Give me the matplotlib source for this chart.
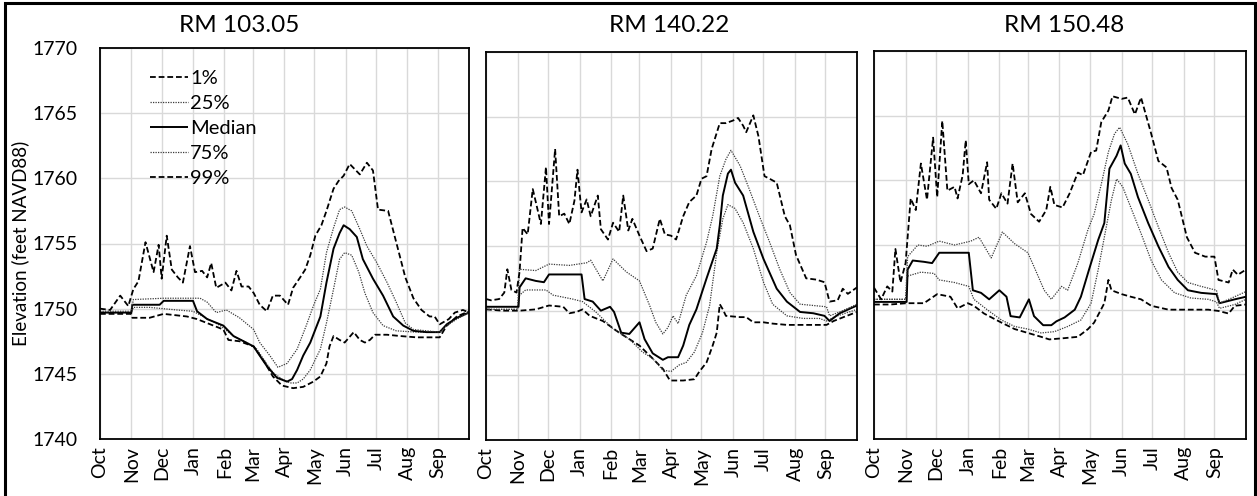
import matplotlib
matplotlib.use("Agg")
import matplotlib.pyplot as plt
from matplotlib.patches import Rectangle

plt.rcParams['font.family'] = ['Lato', 'DejaVu Sans']

# ---------------- data (day of water year, elevation ft NAVD88) ----------------
MONTH_LABELS = ['Oct', 'Nov', 'Dec', 'Jan', 'Feb', 'Mar', 'Apr', 'May', 'Jun', 'Jul', 'Aug', 'Sep']
MONTH_START = [0, 31, 61, 92, 123, 151, 182, 212, 243, 273, 304, 334]
TITLES = ['RM 103.05', 'RM 140.22', 'RM 150.48']
SERIES_NAMES = ['1%', '25%', 'Median', '75%', '99%']

# ---- RM 103.05 ----
P1_99_D = [0, 10, 20, 28, 33, 38, 45, 53, 58, 61, 66, 71, 77, 82, 89, 94, 101, 106, 110, 115,
           124, 130, 135, 140, 147, 152, 158, 165, 171, 178, 186, 191, 198, 203, 208, 213, 219, 224, 231, 236,
           241, 247, 257, 264, 270, 275, 285, 293, 302, 310, 318, 326, 331, 336, 345, 351, 359, 365]
P1_99_V = [1750.0, 1749.9, 1751.0, 1750.2, 1751.5, 1752.1, 1755.1, 1752.8, 1754.9, 1752.3,
           1755.6, 1753.0, 1752.4, 1752.0, 1754.8, 1752.8, 1752.9, 1752.4, 1753.5, 1751.6,
           1752.0, 1751.4, 1752.9, 1751.7, 1751.7, 1751.2, 1750.3, 1749.8, 1751.0, 1751.0,
           1750.3, 1751.6, 1752.4, 1753.0, 1754.1, 1755.6, 1756.4, 1757.5, 1759.2, 1759.8,
           1760.2, 1761.1, 1760.3, 1761.2, 1760.6, 1757.6, 1757.5, 1755.1, 1752.4, 1750.8,
           1749.9, 1749.4, 1749.4, 1748.8, 1749.2, 1749.7, 1749.9, 1749.7]
P1_75_D = [0, 31, 33, 63, 99, 106, 115, 125, 138, 152, 158, 168, 176, 185, 195, 204, 211, 218, 224, 231,
           237, 242, 249, 257, 264, 274, 284, 293, 302, 310, 323, 336, 343, 353, 365]
P1_75_V = [1749.8, 1749.8, 1750.7, 1750.8, 1750.8, 1750.5, 1749.7, 1749.9, 1749.3, 1748.4,
           1747.4, 1746.4, 1745.5, 1745.8, 1746.9, 1748.7, 1750.2, 1751.5, 1754.3, 1756.2,
           1757.6, 1757.8, 1757.5, 1756.1, 1754.8, 1753.5, 1752.0, 1750.5, 1748.9, 1748.4,
           1748.3, 1748.2, 1748.7, 1749.2, 1749.7]
P1_MED_D = [0, 31, 32, 59, 63, 92, 96, 106, 122, 132, 142, 152, 158, 165, 175, 185, 190, 195, 201, 208,
            218, 224, 231, 237, 241, 247, 254, 260, 270, 280, 290, 300, 310, 323, 336, 343, 353, 365]
P1_MED_V = [1749.7, 1749.7, 1750.3, 1750.3, 1750.6, 1750.6, 1749.8, 1749.2, 1748.7, 1747.9,
            1747.5, 1747.1, 1746.4, 1745.6, 1744.7, 1744.4, 1744.6, 1745.3, 1746.4, 1747.4,
            1749.4, 1752.0, 1754.6, 1755.8, 1756.4, 1756.1, 1755.5, 1753.8, 1752.3, 1751.0,
            1749.4, 1748.7, 1748.3, 1748.2, 1748.2, 1748.8, 1749.3, 1749.7]
P1_25_D = [0, 31, 33, 49, 76, 92, 102, 119, 132, 145, 155, 162, 171, 180, 188, 195, 201, 208, 218, 224,
           231, 237, 242, 249, 256, 262, 270, 280, 293, 313, 336, 343, 353, 365]
P1_25_V = [1749.7, 1749.7, 1750.1, 1750.1, 1749.9, 1749.8, 1749.4, 1748.7, 1747.9, 1747.4,
           1746.9, 1746.1, 1745.1, 1744.6, 1744.3, 1744.3, 1744.6, 1745.3, 1746.9, 1748.9,
           1751.5, 1753.8, 1754.3, 1754.1, 1752.8, 1751.2, 1749.7, 1748.7, 1748.3, 1748.2,
           1748.2, 1748.7, 1749.3, 1749.7]
P1_01_D = [0, 31, 32, 49, 63, 86, 96, 109, 122, 127, 138, 152, 162, 171, 180, 191, 201, 211, 218, 224,
           227, 231, 237, 242, 251, 257, 262, 267, 272, 284, 297, 313, 336, 343, 353, 365]
P1_01_V = [1749.6, 1749.6, 1749.3, 1749.3, 1749.6, 1749.4, 1749.2, 1748.8, 1748.4, 1747.6,
           1747.5, 1747.1, 1746.0, 1744.8, 1744.1, 1743.9, 1744.0, 1744.4, 1744.8, 1745.8,
           1747.1, 1747.9, 1747.6, 1747.4, 1748.2, 1747.6, 1747.4, 1747.6, 1748.0, 1748.0,
           1747.9, 1747.8, 1747.8, 1748.7, 1749.4, 1749.8]

# ---- RM 140.22 ----
P2_99_D = [0, 5, 13, 18, 21, 25, 30, 33, 36, 41, 46, 49, 54, 59, 62, 64, 68, 72, 77, 82,
           87, 90, 94, 99, 103, 110, 113, 120, 125, 131, 135, 140, 144, 151, 158, 164, 171, 176, 182, 187,
           194, 200, 207, 212, 217, 222, 230, 236, 243, 248, 253, 256, 263, 268, 274, 279, 286, 294, 299, 305,
           315, 325, 333, 338, 346, 351, 356, 365]
P2_99_V = [1750.9, 1750.8, 1750.9, 1751.4, 1753.2, 1751.6, 1751.4, 1753.0, 1756.4, 1755.9,
           1759.4, 1758.4, 1756.7, 1761.1, 1756.7, 1758.6, 1762.5, 1757.3, 1757.5, 1756.7,
           1758.5, 1760.9, 1757.6, 1758.6, 1757.3, 1758.9, 1756.3, 1755.5, 1756.8, 1756.1,
           1758.9, 1756.2, 1757.1, 1755.8, 1754.6, 1754.8, 1757.1, 1755.9, 1755.8, 1755.5,
           1757.3, 1758.4, 1758.9, 1760.2, 1760.4, 1762.5, 1764.5, 1764.5, 1764.7, 1764.9,
           1764.3, 1763.8, 1765.1, 1763.5, 1760.4, 1760.2, 1759.9, 1757.3, 1756.6, 1754.3,
           1752.5, 1752.4, 1752.2, 1750.7, 1750.8, 1751.7, 1751.3, 1751.8]
P2_75_D = [0, 31, 33, 49, 62, 82, 99, 103, 115, 125, 138, 151, 161, 167, 174, 179, 184, 189, 197, 207,
           217, 223, 230, 236, 241, 250, 259, 269, 279, 289, 299, 309, 322, 335, 338, 348, 365]
P2_75_V = [1750.1, 1750.1, 1753.2, 1753.1, 1753.6, 1753.5, 1753.7, 1753.9, 1752.3, 1754.0,
           1753.0, 1752.3, 1750.4, 1749.1, 1748.2, 1748.7, 1749.6, 1749.0, 1751.2, 1752.7,
           1755.3, 1757.3, 1760.4, 1761.7, 1762.4, 1761.2, 1759.4, 1757.3, 1755.3, 1753.2,
           1751.4, 1750.5, 1750.4, 1750.3, 1749.6, 1749.9, 1750.5]
P2_MED_D = [0, 32, 33, 39, 49, 57, 62, 76, 94, 97, 105, 113, 122, 126, 133, 141, 151, 156, 164, 174,
            179, 189, 194, 200, 207, 217, 227, 230, 233, 238, 241, 245, 253, 263, 273, 286, 296, 309, 322, 333,
            338, 348, 365]
P2_MED_V = [1750.3, 1750.3, 1751.8, 1752.5, 1752.3, 1752.2, 1752.8, 1752.8, 1752.8, 1750.9,
            1750.7, 1750.0, 1750.3, 1749.9, 1748.3, 1748.2, 1749.1, 1747.8, 1746.7, 1746.2,
            1746.4, 1746.4, 1747.3, 1748.9, 1750.1, 1752.5, 1754.8, 1756.6, 1758.9, 1760.6,
            1760.9, 1759.9, 1758.9, 1756.1, 1754.0, 1751.7, 1750.7, 1749.9, 1749.8, 1749.6,
            1749.2, 1749.8, 1750.4]
P2_25_D = [0, 31, 33, 39, 59, 66, 85, 95, 108, 125, 141, 154, 164, 174, 182, 190, 197, 205, 213, 220,
           227, 233, 238, 245, 253, 263, 273, 282, 296, 312, 328, 335, 342, 365]
P2_25_V = [1750.1, 1750.1, 1751.2, 1751.6, 1751.6, 1751.2, 1750.9, 1750.7, 1749.9, 1748.6,
           1747.8, 1746.8, 1746.3, 1745.4, 1745.3, 1745.8, 1746.0, 1746.8, 1748.3, 1750.4,
           1754.5, 1757.1, 1758.2, 1757.9, 1756.8, 1754.8, 1752.2, 1750.5, 1749.6, 1749.4,
           1749.4, 1749.2, 1749.5, 1750.1]
P2_01_D = [0, 16, 33, 49, 62, 76, 82, 89, 95, 102, 115, 131, 151, 164, 174, 181, 194, 205, 210, 217,
           223, 227, 230, 233, 236, 250, 256, 263, 273, 282, 296, 315, 335, 342, 355, 365]
P2_01_V = [1750.1, 1750.0, 1750.0, 1750.1, 1750.4, 1750.3, 1749.8, 1749.9, 1750.1, 1749.6,
           1749.2, 1748.3, 1747.3, 1746.3, 1745.5, 1744.6, 1744.6, 1744.7, 1745.3, 1746.0,
           1747.3, 1748.3, 1750.5, 1750.1, 1749.6, 1749.5, 1749.5, 1749.1, 1749.1, 1749.0,
           1748.9, 1748.9, 1748.9, 1749.2, 1749.6, 1749.9]

# ---- RM 150.48 ----
P3_99_D = [0, 7, 13, 18, 21, 26, 31, 36, 41, 46, 52, 58, 62, 67, 72, 79, 82, 87, 90, 93,
           98, 105, 111, 113, 120, 125, 131, 136, 141, 148, 154, 162, 169, 173, 177, 185, 192, 200, 205, 213,
           218, 223, 230, 234, 243, 249, 256, 262, 267, 272, 279, 287, 292, 298, 307, 315, 325, 334, 338, 348,
           352, 357, 365]
P3_99_V = [1751.7, 1750.8, 1751.8, 1751.4, 1754.7, 1752.1, 1753.6, 1758.6, 1757.7, 1761.3,
           1758.5, 1763.3, 1758.7, 1764.6, 1759.2, 1759.5, 1758.6, 1760.4, 1763.1, 1759.7,
           1760.0, 1759.0, 1761.4, 1758.5, 1757.8, 1759.0, 1758.2, 1761.3, 1758.3, 1759.0,
           1757.4, 1756.8, 1757.7, 1759.5, 1758.1, 1757.9, 1759.0, 1760.6, 1760.4, 1762.2,
           1762.3, 1764.5, 1765.4, 1766.5, 1766.3, 1766.4, 1765.1, 1766.4, 1765.0, 1763.6,
           1761.5, 1761.0, 1759.4, 1758.5, 1755.6, 1754.4, 1754.1, 1754.1, 1752.3, 1752.1,
           1753.1, 1752.7, 1753.1]
P3_75_D = [0, 31, 33, 43, 52, 64, 79, 95, 103, 115, 126, 138, 151, 161, 167, 174, 184, 190, 200, 210,
           216, 223, 230, 236, 241, 249, 259, 269, 279, 289, 298, 308, 321, 336, 339, 351, 365]
P3_75_V = [1750.8, 1750.8, 1754.1, 1755.0, 1754.9, 1755.3, 1755.0, 1755.3, 1755.6, 1754.0,
           1756.0, 1755.1, 1754.4, 1752.6, 1751.5, 1750.8, 1751.8, 1751.5, 1753.6, 1756.2,
           1757.4, 1759.7, 1762.2, 1763.6, 1764.1, 1762.8, 1760.5, 1758.5, 1756.4, 1754.4,
           1752.9, 1752.1, 1751.8, 1751.5, 1750.5, 1750.9, 1751.4]
P3_MED_D = [0, 32, 33, 38, 49, 57, 64, 79, 93, 97, 105, 113, 123, 130, 134, 143, 152, 157, 166, 174,
            179, 187, 197, 203, 211, 220, 226, 231, 238, 242, 246, 252, 259, 269, 279, 289, 298, 308, 321, 336,
            339, 354, 365]
P3_MED_V = [1750.6, 1750.6, 1753.1, 1753.8, 1753.7, 1753.6, 1754.4, 1754.4, 1754.4, 1751.5,
            1751.3, 1750.8, 1751.5, 1751.0, 1749.5, 1749.4, 1750.8, 1749.5, 1748.8, 1748.8,
            1749.1, 1749.4, 1750.0, 1751.0, 1753.1, 1755.4, 1756.7, 1760.9, 1761.9, 1762.7,
            1761.3, 1760.5, 1758.7, 1756.7, 1754.9, 1753.3, 1752.3, 1751.5, 1751.3, 1751.2,
            1750.5, 1750.8, 1751.0]
P3_25_D = [0, 31, 33, 46, 59, 64, 79, 93, 98, 111, 125, 138, 151, 164, 177, 190, 203, 213, 220, 226,
           233, 238, 244, 252, 262, 272, 282, 295, 311, 328, 336, 339, 354, 365]
P3_25_V = [1750.8, 1750.8, 1752.6, 1752.9, 1752.8, 1752.3, 1752.1, 1751.8, 1750.8, 1750.0,
           1749.2, 1748.7, 1748.5, 1748.2, 1748.3, 1748.7, 1749.2, 1750.5, 1753.1, 1755.6,
           1758.5, 1760.1, 1759.5, 1757.9, 1755.9, 1753.8, 1752.3, 1751.3, 1750.9, 1750.8,
           1750.6, 1750.1, 1750.4, 1750.8]
P3_01_D = [0, 16, 32, 49, 62, 75, 82, 92, 98, 108, 125, 138, 151, 164, 172, 187, 200, 210, 216, 226,
           230, 233, 243, 252, 262, 272, 289, 305, 328, 338, 348, 354, 365]
P3_01_V = [1750.4, 1750.4, 1750.5, 1750.5, 1751.2, 1751.0, 1750.1, 1750.5, 1750.3, 1749.7,
           1749.0, 1748.5, 1748.2, 1747.9, 1747.7, 1747.8, 1747.9, 1748.5, 1749.0, 1750.5,
           1752.3, 1751.5, 1751.2, 1751.0, 1750.8, 1750.3, 1750.0, 1750.0, 1750.0, 1749.9,
           1749.7, 1750.3, 1750.4]

PANELS = [
    [(P1_01_D, P1_01_V), (P1_25_D, P1_25_V), (P1_MED_D, P1_MED_V), (P1_75_D, P1_75_V), (P1_99_D, P1_99_V)],
    [(P2_01_D, P2_01_V), (P2_25_D, P2_25_V), (P2_MED_D, P2_MED_V), (P2_75_D, P2_75_V), (P2_99_D, P2_99_V)],
    [(P3_01_D, P3_01_V), (P3_25_D, P3_25_V), (P3_MED_D, P3_MED_V), (P3_75_D, P3_75_V), (P3_99_D, P3_99_V)],
]

# ---------------- styles ----------------
STYLES = [
    dict(color='black', lw=1.3, dashes=(3.2, 1.6)),     # 1%
    dict(color='#3a3a3a', lw=0.9, dashes=(1.0, 1.0)),    # 25%
    dict(color='black', lw=1.4, linestyle='-'),          # Median
    dict(color='#3a3a3a', lw=0.9, dashes=(1.0, 1.0)),    # 75%
    dict(color='black', lw=1.3, dashes=(3.2, 1.6)),     # 99%
]

W, H = 1257, 496
fig = plt.figure(figsize=(W / 100, H / 100), dpi=100)

def px_rect(l, t, r, b):
    return [l / W, 1 - b / H, (r - l) / W, (b - t) / H]

AX_RECTS = [px_rect(100, 48, 469, 439), px_rect(486, 52, 857, 440), px_rect(874, 51, 1246, 439)]
TITLE_X = [239, 669, 1064]

axes = []
for i, rect in enumerate(AX_RECTS):
    ax = fig.add_axes(rect)
    for (d, v), name, st in zip(PANELS[i], SERIES_NAMES, STYLES):
        ax.plot(d, v, label=name, solid_capstyle='butt', dash_capstyle='butt', **st)
    ax.set_xlim(0, 365)
    ax.set_ylim(1740, 1770)
    ax.set_xticks(MONTH_START)
    ax.set_xticklabels(MONTH_LABELS, rotation=90, fontsize=14)
    ax.set_yticks(range(1740, 1771, 5))
    ax.grid(True, color='#d9d9d9', lw=1.0)
    ax.set_axisbelow(True)
    ax.tick_params(length=0, pad=5)
    if i == 0:
        ax.tick_params(axis='y', labelsize=14, pad=16)
    else:
        ax.tick_params(axis='y', labelleft=False)
    for s in ax.spines.values():
        s.set_color('black')
        s.set_linewidth(1.3)
    fig.text(TITLE_X[i] / W, 1 - 25 / H, TITLES[i], ha='center', va='center', fontsize=17.5)
    axes.append(ax)

fig.text(20 / W, 1 - 243 / H, 'Elevation (feet NAVD88)', rotation=90, ha='center', va='center',
         fontsize=13.5)

leg = axes[0].legend(loc='upper left', bbox_to_anchor=(0.135, 0.945), frameon=False, fontsize=14.5,
                     handlelength=1.9, handletextpad=0.1, labelspacing=0.40, borderpad=0,
                     borderaxespad=0)

fig.patches.append(Rectangle((5 / W, -0.05), (1255 - 5) / W, 1.05 - 2.5 / H, transform=fig.transFigure,
                             fill=False, ec='black', lw=2.2))

fig.savefig('out.png', dpi=100)
